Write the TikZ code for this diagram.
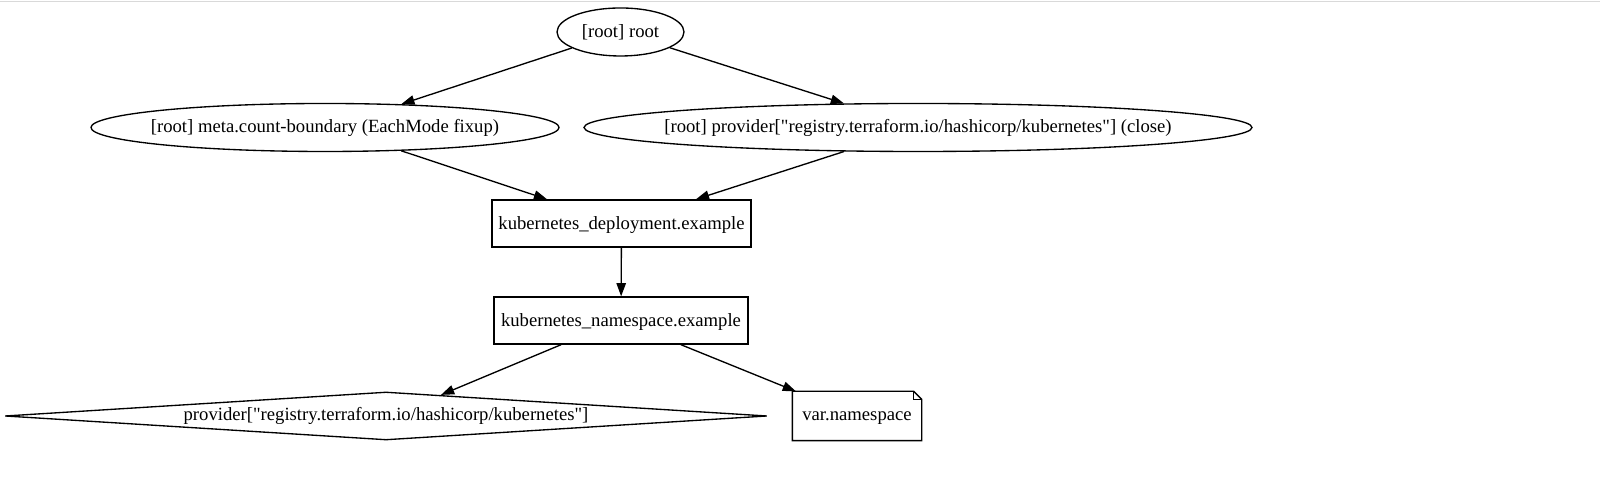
\documentclass[tikz,border=0pt]{standalone}
\usepackage{fontspec}
\setmainfont{Liberation Serif}[Ligatures=TeXOff]
\usetikzlibrary{shapes.geometric,arrows.meta}
\newcommand{\gvlabel}[1]{\makebox[0pt]{#1}}

\begin{document}
\begin{tikzpicture}[x=0.5pt, y=0.5pt,
    font=\fontsize{9.33}{11}\selectfont,
    line width=0.67pt,
    gvellipse/.style={ellipse, draw, inner sep=0pt, minimum height=24pt},
    gvbox/.style={rectangle, draw, inner sep=0pt, text depth=0pt, minimum height=23.5pt},
    gvdiamond/.style={diamond, draw, inner sep=0pt, minimum height=24pt},
    gvnote/.style={rectangle, inner sep=0pt, text depth=0pt, minimum height=24pt, minimum width=64pt},
    gvedge/.style={-{Triangle[length=6.6pt,width=4.7pt]}}]

    % 1. Рамка картинки и серая линия сверху
    \useasboundingbox (0,0) rectangle (1600,490);
    \draw[black!15, line width=0.5pt] (0,488) -- (1600,488);

    % 2. Верхний уровень
    \node[gvellipse, minimum width=63.5pt] (root) at (620.5,458) {\gvlabel{[root] root}};

    % 3. Второй уровень (два овала)
    \node[gvellipse, minimum width=234pt] (meta) at (325,362.5)
        {\gvlabel{[root] meta.count-boundary (EachMode fixup)}};
    \node[gvellipse, minimum width=334pt] (provclose) at (918,362.5)
        {\gvlabel{[root] provider["registry.terraform.io/hashicorp/kubernetes"] (close)}};

    % 4. Ресурсы (прямоугольники)
    \node[gvbox, minimum width=129.5pt] (deploy) at (621.5,266.5) {kubernetes\_deployment.example};
    \node[gvbox, minimum width=127pt] (namespace) at (621,169.5) {kubernetes\_namespace.example};

    % 5. Нижний уровень: ромб и заметка
    \node[gvdiamond, minimum width=381pt] (prov) at (386,74)
        {\gvlabel{provider["registry.terraform.io/hashicorp/kubernetes"]}};
    \node[gvnote] (var) at (857,74) {var.namespace};
    \draw (var.south west) -- (var.north west) -- ([xshift=-4pt]var.north east)
        -- ([yshift=-4pt]var.north east) -- (var.south east) -- cycle;
    \draw ([xshift=-4pt]var.north east) -- ([xshift=-4pt,yshift=-4pt]var.north east)
        -- ([yshift=-4pt]var.north east);

    % 6. Стрелки
    \draw[gvedge] (root) -- (meta.17);
    \draw[gvedge] (root) -- (provclose.162);
    \draw[gvedge] (meta.-17) -- (deploy.162);
    \draw[gvedge] (provclose.198) -- (deploy.18);
    \draw[gvedge] (deploy) -- (namespace);
    \draw[gvedge] (namespace.202) -- (prov.21);
    \draw[gvedge] (namespace.-22) -- (var.158);

\end{tikzpicture}
\end{document}
